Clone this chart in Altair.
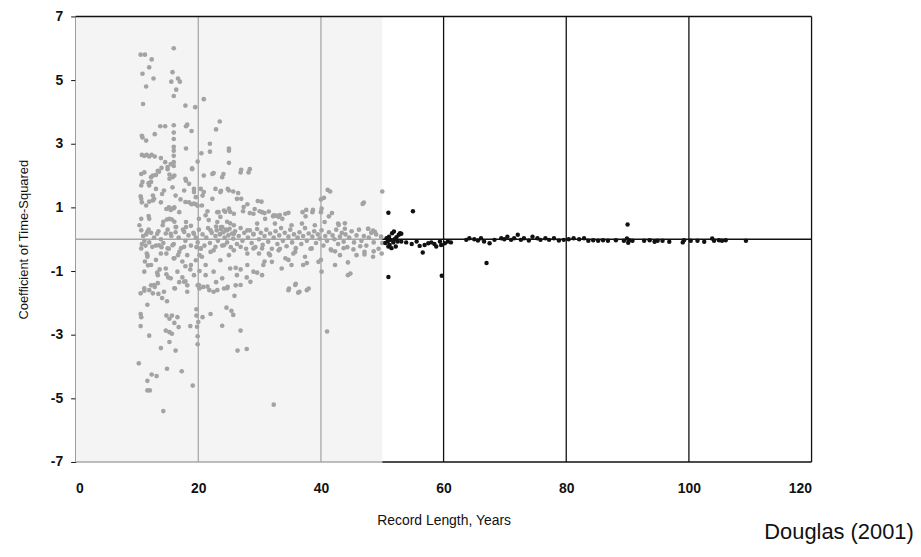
import altair as alt
import pandas as pd

# ---- data (record length in years, coefficient of time-squared) ----
gray_upper = [
    (10.6, 5.8), (11.3, 5.8), (16.0, 6.0), (12.4, 5.65), (12.0, 5.4), (10.9, 5.2), (12.7, 5.05),
    (15.8, 5.25), (15.6, 4.95), (16.7, 5.05), (17.0, 4.95), (16.4, 4.7), (16.0, 4.5), (11.5, 4.8),
    (11.0, 4.25), (17.9, 4.2), (19.5, 4.15), (20.9, 4.4), (23.5, 3.7), (22.9, 3.45), (21.9, 3.0),
    (21.9, 2.75), (20.5, 2.7), (25.0, 2.85), (25.0, 2.78), (25.0, 2.4), (24.1, 2.05), (22.5, 2.08),
    (27.0, 2.18), (28.4, 2.2), (13.8, 3.55), (14.6, 3.55), (16.0, 3.58), (18.0, 3.55), (18.2, 3.6),
    (18.9, 3.4), (12.9, 3.3), (10.8, 3.25), (10.9, 3.2), (11.5, 3.1), (16.0, 3.35), (16.0, 3.15),
    (16.0, 2.9), (16.0, 2.78), (16.0, 2.62), (16.0, 2.42), (16.0, 2.3), (18.0, 2.85), (10.8, 2.65),
    (11.2, 2.62), (11.6, 2.65), (12.0, 2.6), (12.4, 2.65), (12.9, 2.6), (13.9, 2.55), (14.6, 2.42),
    (15.0, 2.27), (15.5, 2.36), (19.0, 2.23), (19.9, 2.44), (13.6, 2.12), (14.0, 2.24), (13.1, 2.02),
    (10.7, 2.05), (10.9, 1.8), (11.9, 1.76), (12.3, 1.8), (12.6, 2.0), (15.3, 2.03), (15.8, 1.95),
    (17.9, 1.9), (18.5, 1.74), (19.3, 1.48), (20.4, 1.58), (20.7, 1.37), (23.7, 1.52), (24.8, 1.58),
    (25.7, 1.5), (26.5, 1.45), (27.0, 1.27), (10.6, 1.35), (10.8, 1.16), (12.0, 1.18), (12.6, 1.37),
    (12.6, 1.22), (14.1, 1.42), (14.8, 0.95), (15.2, 1.0), (15.5, 0.92), (16.0, 0.97), (16.1, 1.0),
    (17.1, 1.25), (17.9, 1.17), (18.9, 1.1), (19.3, 1.12), (19.6, 1.1), (19.9, 1.05), (11.9, 0.73),
    (10.7, 0.64), (14.3, 0.55), (14.9, 0.62), (15.7, 0.62), (16.1, 0.55), (11.9, 0.3), (10.7, 0.28),
    (15.0, 0.3), (16.4, 0.38), (18.0, 0.38), (18.8, 0.42), (21.5, 0.88), (21.7, 0.6), (23.3, 0.85),
    (23.6, 0.7), (22.9, 0.4), (23.7, 0.32), (24.4, 0.86), (25.2, 0.86), (24.7, 0.55), (25.2, 0.5),
    (27.3, 0.88), (28.0, 1.1), (28.4, 0.82), (29.7, 1.2), (29.2, 0.95), (30.0, 0.88), (30.8, 0.82),
    (32.2, 0.72), (32.7, 0.74), (33.3, 0.76), (34.2, 0.8), (37.0, 0.85), (37.6, 0.92), (37.5, 0.72),
    (38.6, 0.85), (40.0, 1.25), (41.1, 1.55), (40.0, 0.85), (41.3, 0.72), (42.9, 0.45), (43.9, 0.5),
    (47.0, 1.15), (50.0, 1.5), (47.7, 0.33), (48.5, 0.27),
]

gray_mid = [
    (11.2, 2.1), (12.3, 1.95), (13.4, 2.15), (15.0, 2.2), (15.3, 1.9), (16.1, 2.0), (18.0, 1.84),
    (19.0, 2.2), (20.9, 2.0), (22.3, 2.05), (23.9, 1.95), (26.9, 2.1), (28.2, 2.1), (10.7, 1.69),
    (12.0, 1.69), (13.1, 1.58), (14.4, 1.53), (15.8, 1.63), (16.3, 1.37), (17.7, 1.53), (19.3, 1.58),
    (20.9, 1.48), (22.8, 1.58), (23.6, 1.48), (25.0, 1.53), (26.3, 1.27), (10.7, 1.27), (11.5, 1.06),
    (12.8, 1.27), (13.9, 1.16), (15.5, 0.96), (16.9, 0.85), (18.5, 1.16), (19.6, 1.32), (20.6, 1.06),
    (22.3, 1.27), (23.1, 0.85), (24.2, 0.9), (25.0, 0.96), (25.8, 0.8), (27.4, 1.01), (29.0, 0.8),
    (10.4, 0.44), (12.0, 0.64), (14.2, 0.44), (15.3, 0.64), (16.3, 0.38), (18.0, 0.54), (20.1, 0.64),
    (21.2, 0.75), (23.1, 0.54), (23.9, 0.38), (24.7, 0.28), (25.8, 0.44), (28.0, 0.28), (29.6, 0.49),
    (11.7, 0.23), (13.3, 0.17), (15.5, 0.17), (17.7, 0.23), (19.3, 0.17), (22.0, 0.28), (23.6, 0.17),
    (25.8, 0.17), (29.0, 0.17), (30.3, 1.18), (31.5, 0.87), (32.3, 0.75), (33.1, 0.7), (33.7, 0.64),
    (34.7, 0.83), (38.7, 0.92), (40.1, 0.96), (41.8, 0.82), (40.5, 1.3), (41.5, 1.5), (46.8, 1.11),
    (30.4, 0.85), (30.9, 0.64), (32.5, 0.49), (35.2, 0.44), (36.9, 0.49), (39.0, 0.44), (40.6, 0.54),
    (42.8, 0.49), (43.9, 0.33), (47.7, 0.33), (48.8, 0.23),
    (10.7, -0.29), (11.7, -0.5), (12.5, -0.24), (13.6, -0.19), (13.9, -0.45), (15.0, -0.29),
    (15.8, -0.19), (16.1, -0.6), (16.9, -0.4), (17.7, -0.24), (18.2, -0.5), (18.8, -0.81),
    (19.6, -0.66), (20.4, -0.29), (20.6, -0.55), (21.2, -0.81), (22.0, -0.4), (22.8, -0.24),
    (23.6, -0.66), (24.2, -0.19), (25.0, -0.5), (25.8, -0.35), (26.9, -0.24), (28.0, -0.45),
    (29.0, -0.29), (11.2, -1.02), (12.3, -0.81), (13.4, -1.13), (14.7, -0.92), (15.5, -1.23),
    (16.6, -1.02), (17.7, -1.34), (19.3, -1.13), (20.1, -1.44), (21.2, -1.13), (22.5, -1.02),
    (23.9, -1.23), (25.2, -0.92), (26.3, -1.13), (28.0, -0.81), (29.0, -1.02), (11.2, -1.54),
    (12.8, -1.44), (14.4, -1.65), (16.1, -1.54), (18.2, -1.65), (21.5, -1.49), (23.1, -1.6),
    (24.7, -1.54), (26.9, -1.44), (28.5, -1.34), (30.4, -0.29), (31.5, -0.45), (33.1, -0.35),
    (34.2, -0.6), (35.8, -0.4), (37.4, -0.55), (38.5, -0.29), (39.6, -0.71), (41.7, -0.35),
    (43.1, -0.5), (44.4, -0.73), (45.8, -0.5), (47.1, -0.4), (48.5, -0.55), (30.6, -0.81),
    (32.0, -0.71), (33.6, -0.92), (35.2, -0.81), (40.1, -1.02), (44.4, -1.13), (35.8, -1.44),
    (34.7, -1.6), (36.3, -1.68), (37.7, -1.6), (30.4, -1.13), (37.1, -0.81), (42.3, -0.81),
]

gray_near = [
    (11.0, 0.1), (11.2, -0.05), (11.5, 0.15), (12.0, -0.1), (12.3, 0.2), (12.8, 0.05), (13.1, -0.2),
    (13.5, 0.25), (13.9, 0.0), (14.3, -0.12), (14.7, 0.18), (15.2, -0.3), (15.6, 0.1), (16.0, -0.15),
    (16.3, 0.22), (16.8, 0.05), (17.2, -0.28), (17.5, 0.3), (17.9, -0.05), (18.4, 0.12), (18.8, -0.2),
    (19.2, 0.2), (19.6, 0.05), (19.9, -0.1), (20.1, 0.3), (20.4, -0.3), (20.7, 0.15), (21.0, -0.2),
    (21.3, 0.05), (21.6, 0.35), (21.9, -0.12), (22.2, 0.2), (22.5, -0.35), (22.8, 0.1), (23.0, 0.28),
    (23.2, -0.05), (23.5, 0.15), (23.7, 0.38), (23.9, -0.2), (24.1, 0.22), (24.3, 0.05), (24.5, 0.3),
    (24.7, -0.1), (24.9, 0.12), (25.1, 0.33), (25.3, -0.25), (25.5, 0.18), (25.7, 0.02), (26.0, 0.25),
    (26.3, -0.15), (26.6, 0.1), (26.9, 0.35), (27.2, -0.05), (27.5, 0.2), (27.8, -0.3), (28.1, 0.05),
    (28.4, 0.28), (28.7, -0.12), (29.0, 0.15), (29.3, -0.25), (29.6, 0.32), (29.9, 0.0), (30.2, 0.2),
    (30.5, -0.18), (30.8, 0.1), (31.1, 0.3), (31.4, -0.08), (31.7, 0.18), (32.0, -0.3), (32.3, 0.05),
    (32.6, 0.25), (32.9, -0.15), (33.2, 0.12), (33.5, 0.35), (33.8, -0.05), (34.1, 0.2), (34.4, -0.22),
    (34.7, 0.08), (35.0, 0.3), (35.3, -0.1), (35.6, 0.15), (35.9, -0.28), (36.2, 0.05), (36.5, 0.22),
    (36.8, -0.15), (37.1, 0.1), (37.4, 0.35), (37.7, -0.05), (38.0, 0.18), (38.3, -0.3), (38.6, 0.08),
    (38.9, 0.25), (39.2, -0.12), (39.5, 0.15), (39.8, 0.02), (40.1, 0.28), (40.4, -0.2), (40.7, 0.1),
    (41.0, -0.05), (41.3, 0.22), (41.6, -0.32), (41.9, 0.12), (42.2, 0.0), (42.5, 0.3), (42.8, -0.15),
    (43.1, 0.08), (43.4, 0.2), (43.7, -0.08), (44.0, 0.15), (44.3, -0.25), (44.6, 0.05), (45.0, 0.25),
    (45.4, -0.1), (45.8, 0.12), (46.2, 0.3), (46.6, -0.05), (47.0, 0.1), (47.4, -0.2), (47.8, 0.05),
    (48.2, 0.2), (48.6, -0.1), (49.0, 0.15), (49.4, -0.3), (49.8, 0.08), (50.0, -0.12),
]

gray_lower = [
    (10.3, -3.9), (11.7, -4.45), (11.7, -4.75), (12.1, -4.75), (12.4, -4.25), (13.2, -4.3),
    (14.3, -5.4), (14.9, -4.07), (17.3, -4.15), (19.1, -4.6), (16.3, -3.5), (13.9, -3.42),
    (12.0, -3.03), (10.6, -2.73), (10.7, -2.45), (10.6, -2.35), (11.7, -2.06), (10.6, -1.7),
    (11.2, -1.62), (12.0, -1.6), (12.3, -1.45), (12.9, -1.5), (13.4, -1.38), (12.6, -1.7),
    (13.5, -1.72), (14.1, -1.85), (14.9, -1.95), (14.8, -2.4), (15.3, -2.5), (15.7, -2.4),
    (14.7, -2.87), (15.3, -2.92), (15.7, -2.97), (16.8, -2.76), (18.7, -2.73), (15.3, -3.23),
    (16.6, -2.45), (16.1, -2.63), (16.2, -1.55), (16.9, -1.35), (17.9, -1.32), (18.2, -1.45),
    (17.4, -1.2), (13.3, -1.05), (13.7, -0.95), (14.8, -1.1), (15.1, -1.2), (13.1, -0.65),
    (11.7, -0.55), (11.3, -0.7), (11.8, -0.82), (11.4, -0.2), (11.6, -0.45), (10.8, -0.15),
    (14.0, -0.25), (14.8, -0.45), (16.0, -0.6), (16.7, -0.5), (17.4, -0.7), (17.9, -0.85),
    (18.7, -0.95), (19.7, -0.25), (20.2, -0.5), (20.2, -1.0), (19.9, -1.45), (20.2, -1.55),
    (20.8, -1.5), (19.7, -2.2), (19.7, -2.4), (20.0, -2.6), (19.8, -2.75), (20.7, -2.45),
    (22.0, -2.35), (19.9, -3.05), (19.9, -3.3), (21.8, -1.6), (22.5, -1.65), (22.9, -1.35),
    (24.2, -1.55), (24.8, -1.5), (26.1, -1.45), (25.9, -1.78), (24.6, -2.15), (25.4, -2.25),
    (25.7, -2.38), (23.9, -2.72), (26.9, -2.87), (26.4, -3.5), (27.9, -3.45), (32.3, -5.2),
    (27.9, -1.2), (29.6, -1.05), (26.9, -0.95), (26.1, -0.9), (34.8, -1.55), (35.9, -1.4),
    (36.5, -1.65), (38.0, -1.55), (37.7, -0.75), (35.5, -0.45), (34.7, -0.65), (33.3, -0.3),
    (31.7, -0.5), (30.8, -0.7), (29.9, -0.45), (40.0, -0.65), (41.0, -2.9), (44.8, -1.08),
    (42.3, -0.38), (43.7, -0.28), (45.3, -0.32), (46.4, -0.22), (47.1, -0.48), (48.6, -0.38),
    (49.9, -0.45),
]

black_points = [
    (51.0, 0.83), (55.0, 0.88), (51.0, -1.19), (59.7, -1.15), (67.0, -0.75), (56.6, -0.42),
    (90.0, 0.46), (50.5, -0.12), (50.7, 0.03), (50.9, -0.07), (51.1, 0.08), (51.2, -0.18),
    (51.4, -0.02), (51.6, 0.19), (51.8, -0.1), (51.9, 0.24), (52.0, 0.0), (52.2, -0.23),
    (52.3, 0.06), (52.5, -0.07), (52.7, 0.14), (52.9, 0.19), (51.0, -0.23), (51.5, -0.28),
    (53.1, 0.17), (53.1, -0.07), (53.9, -0.1), (54.8, -0.15), (55.6, -0.07), (56.1, -0.21),
    (56.9, -0.18), (57.5, -0.125), (58.0, -0.1), (58.5, -0.15), (58.8, -0.23), (59.4, -0.07),
    (59.6, -0.18), (60.2, -0.125), (60.7, -0.07), (61.2, -0.1), (63.7, -0.02), (64.2, 0.03),
    (65.0, 0.0), (65.6, -0.04), (66.1, 0.03), (66.6, -0.07), (67.5, -0.125), (68.3, -0.02),
    (69.4, 0.03), (69.9, 0.0), (70.4, 0.08), (71.0, -0.02), (71.5, 0.03), (72.1, 0.14),
    (72.6, -0.02), (73.1, 0.03), (73.9, -0.04), (74.5, 0.08), (75.3, 0.03), (75.8, -0.02),
    (76.6, 0.03), (77.2, -0.02), (78.0, 0.03), (78.8, -0.04), (79.6, -0.02), (80.4, 0.0),
    (81.2, 0.03), (82.1, 0.0), (82.9, 0.03), (83.6, -0.05), (84.4, -0.03), (85.2, -0.05),
    (86.0, -0.03), (86.8, -0.05), (88.1, -0.03), (89.4, -0.05), (89.9, 0.02), (90.1, -0.11),
    (90.3, -0.03), (90.8, -0.05), (92.7, -0.05), (93.6, -0.03), (94.4, -0.08), (94.9, -0.05),
    (95.7, -0.05), (96.8, -0.08), (99.0, -0.1), (99.2, -0.03), (100.3, -0.05), (101.4, -0.05),
    (102.5, -0.08), (103.8, 0.02), (104.1, -0.05), (104.9, -0.03), (105.4, -0.05), (106.0, -0.03),
    (109.3, -0.05),
]

shade_span = [0, 50]
gray_grid = [20, 40]
black_grid = [60, 80, 100]
x_ticks = [0, 20, 40, 60, 80, 100, 120]
y_ticks = [-7, -5, -3, -1, 1, 3, 5, 7]
x_range = [0, 120]
y_range = [-7, 7]

# ---- tables built from the arrays ----
gray_df = pd.DataFrame(gray_upper + gray_mid + gray_near + gray_lower, columns=["len", "coef"])
black_df = pd.DataFrame(black_points, columns=["len", "coef"])
shade_df = pd.DataFrame({"x": [shade_span[0]], "x2": [shade_span[1]],
                         "y": [y_range[0]], "y2": [y_range[1]]})
vgrid_df = pd.DataFrame({"x": gray_grid + black_grid,
                         "c": ["g"] * len(gray_grid) + ["k"] * len(black_grid),
                         "y": y_range[0], "y2": y_range[1]})
hline_df = pd.DataFrame({"x": [x_range[0], shade_span[1]], "x2": [shade_span[1], x_range[1]],
                         "y": [0, 0], "c": ["g", "k"]})
bottom_df = pd.DataFrame({"x": [x_range[0], shade_span[1]], "x2": [shade_span[1], x_range[1]],
                          "y": [y_range[0]] * 2, "c": ["g", "k"]})
top_df = pd.DataFrame({"x": [x_range[0]], "x2": [x_range[1]], "y": [y_range[1]]})
right_df = pd.DataFrame({"x": [x_range[1]], "y": [y_range[0]], "y2": [y_range[1]]})

GRAY_PT = "#a3a3a3"
SHADE = "#f4f4f4"
FONT = "Liberation Sans"

xs = alt.Scale(domain=x_range, nice=False, zero=False)
ys = alt.Scale(domain=y_range, nice=False, zero=False)
lc = alt.Scale(domain=["g", "k"], range=["#a8a8a8", "#111111"])

x_axis = alt.Axis(values=x_ticks, ticks=False, domain=False, grid=False, labelPadding=20,
                  labelFontSize=14, labelFontWeight="bold", labelColor="#111",
                  labelExpr="datum.value + ''",
                  title="Record Length, Years", titleFontSize=14, titleFontWeight="normal",
                  titlePadding=18, titleColor="#111", labelFont=FONT, titleFont=FONT)
y_axis = alt.Axis(values=y_ticks, ticks=True, tickSize=5, tickColor="#111", domain=True,
                  domainColor="#111", domainWidth=1.5, grid=False, labelPadding=8,
                  labelFontSize=14, labelFontWeight="bold", labelColor="#111",
                  labelExpr="datum.value + ''",
                  title="Coefficient of Time-Squared", titleFontSize=13,
                  titleFontWeight="normal", titlePadding=20, titleColor="#111",
                  labelFont=FONT, titleFont=FONT)

shade = alt.Chart(shade_df).mark_rect(color=SHADE).encode(
    x=alt.X("x:Q", scale=xs, axis=x_axis), x2="x2", y=alt.Y("y:Q", scale=ys, axis=y_axis), y2="y2")

vgrid = alt.Chart(vgrid_df).mark_rule(strokeWidth=1.3).encode(
    x="x:Q", y="y:Q", y2="y2", color=alt.Color("c:N", scale=lc, legend=None))

hline = alt.Chart(hline_df).mark_rule(strokeWidth=1.5).encode(
    x="x:Q", x2="x2", y="y:Q", color=alt.Color("c:N", scale=lc, legend=None))

gray_pts = alt.Chart(gray_df).mark_circle(size=22, color=GRAY_PT, opacity=1).encode(
    x="len:Q", y="coef:Q")
black_pts = alt.Chart(black_df).mark_circle(size=20, color="#111111", opacity=1).encode(
    x="len:Q", y="coef:Q")

bottom = alt.Chart(bottom_df).mark_rule(strokeWidth=1.5).encode(
    x="x:Q", x2="x2", y="y:Q", color=alt.Color("c:N", scale=lc, legend=None))
top = alt.Chart(top_df).mark_rule(strokeWidth=1.5, color="#111").encode(x="x:Q", x2="x2", y="y:Q")
right = alt.Chart(right_df).mark_rule(strokeWidth=1.3, color="#111").encode(x="x:Q", y="y:Q", y2="y2")

chart = alt.layer(shade, vgrid, hline, gray_pts, black_pts, bottom, top, right).properties(
    width=740, height=448,
    autosize=alt.AutoSizeParams(type="none"),
    padding={"left": 68, "top": 7, "right": 102, "bottom": 85},
    title=alt.TitleParams("Douglas (2001)", orient="bottom", anchor="end", fontSize=22,
                          fontWeight="normal", font=FONT, color="#111", dx=102, offset=-6),
).configure_view(stroke=None)

chart.save("out.html", embed_options={"renderer": "svg", "actions": False})
